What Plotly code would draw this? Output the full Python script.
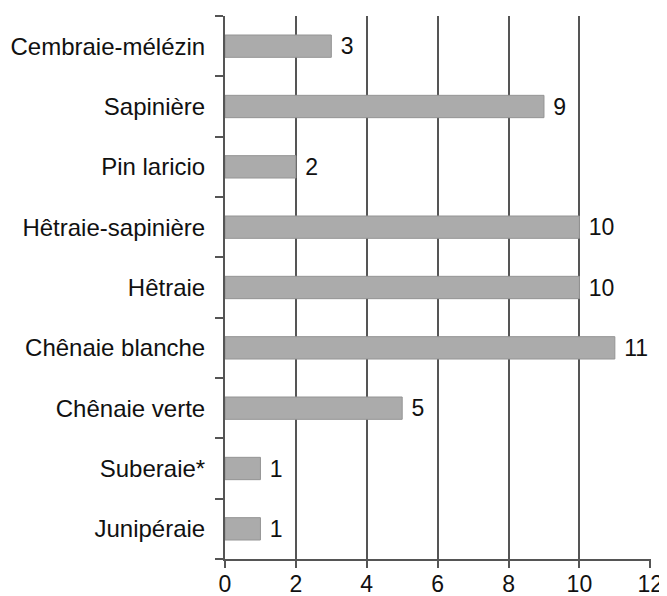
import plotly.graph_objects as go

categories = ["Cembraie-mélézin", "Sapinière", "Pin laricio", "Hêtraie-sapinière",
              "Hêtraie", "Chênaie blanche", "Chênaie verte", "Suberaie*", "Junipéraie"]
values = [3, 9, 2, 10, 10, 11, 5, 1, 1]
x_ticks = [0, 2, 4, 6, 8, 10, 12]

FONT = "Liberation Sans, Arial, sans-serif"

fig = go.Figure(go.Bar(
    x=values, y=categories, orientation="h",
    width=0.37,
    marker=dict(color="#ababab", line=dict(color="#949494", width=1)),
    text=[" " + str(v) for v in values], textposition="outside",
    textfont=dict(size=23, color="#111111", family=FONT),
    constraintext="none",
    cliponaxis=False,
))

# page body has an 8px default margin, so the figure is sized to compensate
fig.update_layout(
    width=659, height=588,
    margin=dict(l=217, r=16, t=8, b=37, autoexpand=False),
    plot_bgcolor="white", paper_bgcolor="white",
    font=dict(family=FONT, size=23, color="#111111"),
    showlegend=False,
)
fig.update_xaxes(
    range=[0, 12.02], tickvals=x_ticks, ticktext=[str(t) for t in x_ticks],
    showgrid=True, gridcolor="#555555", gridwidth=2,
    showline=True, linecolor="#555555", linewidth=2,
    ticks="outside", ticklen=7, tickwidth=2, tickcolor="#555555",
    zeroline=False, automargin=False, ticklabelstandoff=-4,
)
fig.update_yaxes(
    categoryorder="array", categoryarray=categories[::-1],
    autorange=False, range=[-0.5, 8.5],
    showline=True, linecolor="#555555", linewidth=2,
    ticks="outside", ticklen=8, tickwidth=2, tickcolor="#555555",
    tickson="boundaries", showgrid=False, ticklabelstandoff=13,
    tickfont=dict(size=24),
    automargin=False,
)
fig.write_html("out.html")
